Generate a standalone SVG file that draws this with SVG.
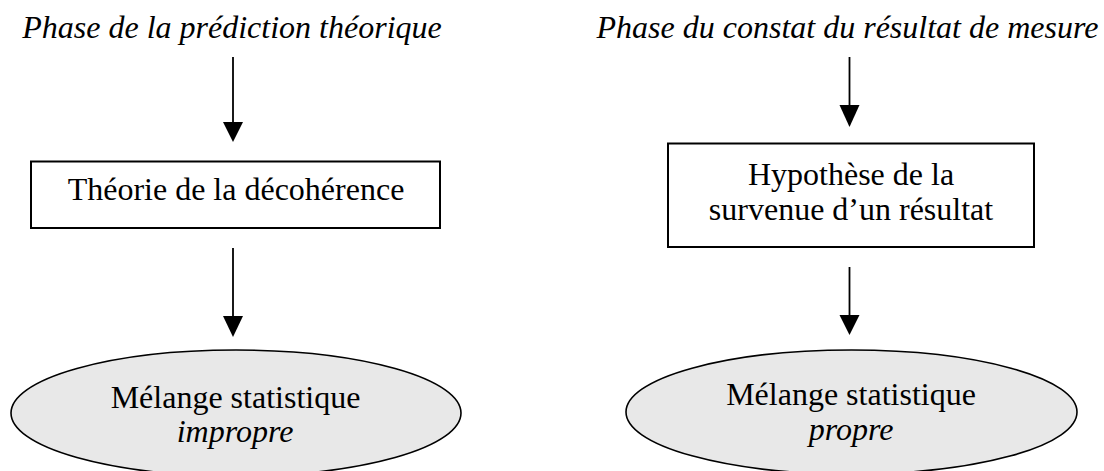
<svg xmlns="http://www.w3.org/2000/svg" width="1104" height="471" viewBox="0 0 1104 471">
<defs>
<style>
text{font-family:"Liberation Serif","Times New Roman",serif;font-size:32px;fill:#000}
.it{font-style:italic}
.box{fill:#fff;stroke:#000;stroke-width:2}
.ell{fill:#e8e8e8;stroke:#000;stroke-width:1.6}
.conn{stroke:#000;stroke-width:1.8;fill:none}
.head{fill:#000}
</style>
</defs>
<rect width="1104" height="471" fill="#fff"/>
<g id="title-left"><text class="it" x="232" y="38" text-anchor="middle">Phase de la prédiction théorique</text></g>
<g id="title-right"><text class="it" x="847.5" y="38" text-anchor="middle">Phase du constat du résultat de mesure</text></g>
<g id="connectors">
<line class="conn" x1="233" y1="57" x2="233" y2="124"/>
<polygon class="head" points="223,122 243,122 233,142"/>
<line class="conn" x1="233" y1="248" x2="233" y2="318"/>
<polygon class="head" points="223,316 243,316 233,337"/>
<line class="conn" x1="849.5" y1="57" x2="849.5" y2="107"/>
<polygon class="head" points="839.5,105 859.5,105 849.5,127"/>
<line class="conn" x1="849.5" y1="267" x2="849.5" y2="317"/>
<polygon class="head" points="839.5,315 859.5,315 849.5,335"/>
</g>
<g id="node-decoherence">
<rect class="box" x="31" y="161.5" width="409" height="66.5"/>
<text x="236" y="200" text-anchor="middle">Théorie de la décohérence</text>
</g>
<g id="node-hypothese">
<rect class="box" x="668" y="143.5" width="366" height="103.5"/>
<text x="851" y="185" text-anchor="middle">Hypothèse de la</text>
<text x="851" y="220" text-anchor="middle">survenue d’un résultat</text>
</g>
<g id="node-impropre">
<ellipse class="ell" cx="236" cy="413" rx="225" ry="63"/>
<text x="235.5" y="408" text-anchor="middle">Mélange statistique</text>
<text class="it" x="235" y="442" text-anchor="middle">impropre</text>
</g>
<g id="node-propre">
<ellipse class="ell" cx="851.5" cy="412" rx="225.5" ry="62"/>
<text x="851" y="405" text-anchor="middle">Mélange statistique</text>
<text class="it" x="851" y="440" text-anchor="middle">propre</text>
</g>
</svg>
